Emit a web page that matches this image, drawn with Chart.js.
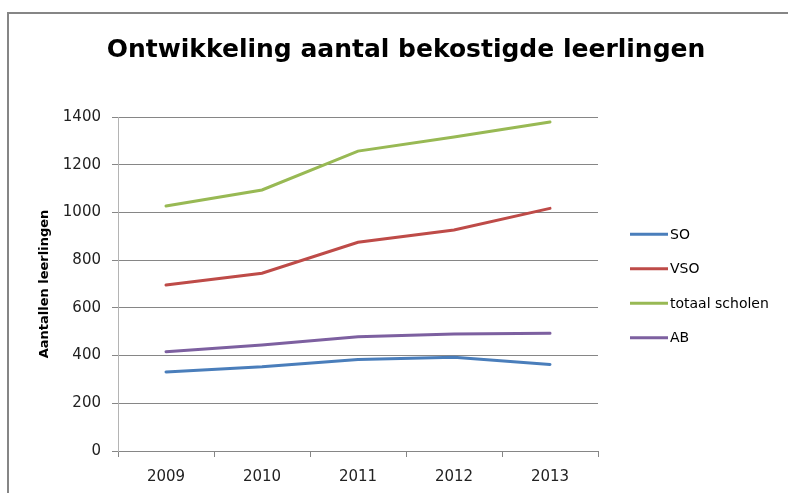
<!DOCTYPE html>
<html>
<head>
<meta charset="utf-8">
<script src="https://cdn.jsdelivr.net/npm/chart.js@4/dist/chart.umd.min.js"></script>
<style>
  html, body { margin: 0; padding: 0; background: #fff; }
  #wrap { width: 788px; height: 493px; }
</style>
</head>
<body>
<div id="wrap"><canvas id="leerlingenChart" width="788" height="493"></canvas></div>
<script>
// data
const years = ["2009", "2010", "2011", "2012", "2013"];
const soValues = [331, 353, 384, 393, 363];
const vsoValues = [696, 745, 875, 926, 1017];
const totaalValues = [1027, 1094, 1257, 1316, 1379];
const abValues = [416, 444, 479, 490, 494];

const yMin = 0;
const yMax = 1400;
const yStep = 200;

const chartTitle = "Ontwikkeling aantal bekostigde leerlingen";
const yTitle = "Aantallen leerlingen";

const gridGray = "#868686";

// frame + white background
const framePlugin = {
    id: "frame",
    beforeDraw(chart) {
        const ctx = chart.ctx;
        ctx.save();
        ctx.fillStyle = "#fff";
        ctx.fillRect(0, 0, chart.width, chart.height);
        ctx.strokeStyle = gridGray;
        ctx.lineWidth = 2;
        ctx.strokeRect(8, 13, chart.width + 20, chart.height + 20);
        ctx.restore();
    }
};

// title centered over the (wider) chart frame
const titlePlugin = {
    id: "bigTitle",
    afterDraw(chart) {
        const ctx = chart.ctx;
        ctx.save();
        ctx.font = "bold 25px 'DejaVu Sans'";
        ctx.fillStyle = "#000";
        ctx.textAlign = "center";
        ctx.textBaseline = "middle";
        ctx.fillText(chartTitle, 406, 50);
        ctx.restore();
    }
};

// legend on the right, line samples like Excel
const legendPlugin = {
    id: "lineLegend",
    afterDraw(chart) {
        const ctx = chart.ctx;
        const area = chart.chartArea;
        const sets = chart.data.datasets;
        const x0 = area.right + 32;
        const yc = (area.top + area.bottom) / 2 + 2;
        const gap = 34.5;
        ctx.save();
        ctx.font = "14px 'DejaVu Sans'";
        ctx.textBaseline = "middle";
        sets.forEach((ds, i) => {
            const y = yc + (i - (sets.length - 1) / 2) * gap;
            ctx.strokeStyle = ds.borderColor;
            ctx.lineWidth = 3;
            ctx.beginPath();
            ctx.moveTo(x0, y);
            ctx.lineTo(x0 + 38, y);
            ctx.stroke();
            ctx.fillStyle = "#000";
            ctx.fillText(ds.label, x0 + 40, y + 1);
        });
        ctx.restore();
    }
};

const ctx = document.getElementById("leerlingenChart").getContext("2d");

new Chart(ctx, {
    type: "line",
    data: {
        labels: years,
        datasets: [
            { label: "SO", data: soValues, borderColor: "#4A7EBB" },
            { label: "VSO", data: vsoValues, borderColor: "#BE4B48" },
            { label: "totaal scholen", data: totaalValues, borderColor: "#98B954" },
            { label: "AB", data: abValues, borderColor: "#7D60A0" }
        ]
    },
    options: {
        responsive: false,
        animation: false,
        layout: {
            padding: { top: 117, right: 190, bottom: 0, left: 0 }
        },
        elements: {
            point: { radius: 0 },
            line: { borderWidth: 3, tension: 0, borderCapStyle: "round" }
        },
        plugins: {
            legend: { display: false },
            title: { display: false },
            tooltip: { enabled: false }
        },
        scales: {
            x: {
                offset: true,
                grid: {
                    display: true,
                    drawOnChartArea: false,
                    drawTicks: true,
                    tickLength: 6,
                    offset: true,
                    color: gridGray
                },
                border: { color: gridGray },
                ticks: {
                    font: { family: "DejaVu Sans", size: 15 },
                    color: "#222",
                    padding: 11,
                    maxRotation: 0
                },
                afterFit: (scale) => { scale.height = 42; }
            },
            y: {
                min: yMin,
                max: yMax,
                grid: {
                    color: gridGray,
                    tickLength: 6
                },
                border: { color: "#b4b4b4" },
                ticks: {
                    stepSize: yStep,
                    font: { family: "DejaVu Sans", size: 15 },
                    color: "#222",
                    padding: 11,
                    callback: (v) => String(v)
                },
                title: {
                    display: true,
                    text: yTitle,
                    font: { family: "DejaVu Sans", size: 13, weight: "bold" },
                    color: "#000",
                    padding: { top: 37, bottom: 0 }
                },
                afterFit: (scale) => { scale.width = 118; }
            }
        }
    },
    plugins: [framePlugin, titlePlugin, legendPlugin]
});
</script>
</body>
</html>
